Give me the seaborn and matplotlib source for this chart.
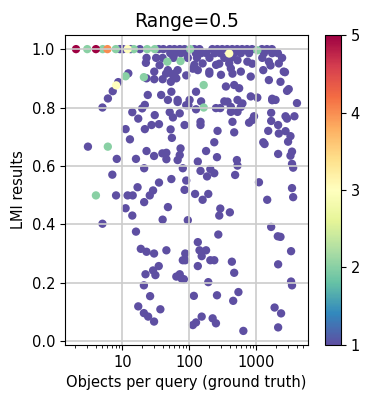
import numpy as np
import pandas as pd
import matplotlib
matplotlib.use('Agg')
import matplotlib.pyplot as plt
import matplotlib.ticker as mticker
import seaborn as sns
from matplotlib.colors import Normalize
from matplotlib.cm import ScalarMappable

# ---------------- data ----------------
# colored points (value > 1)
x_hi = [2.04, 4.04, 6.0, 12.0, 8.1, 394,
        3.0, 5.1, 8.0, 14.9, 23.5, 30.5, 103, 1035, 47, 74, 11.2, 21, 164, 164, 6.08, 4.04]
y_hi = [1.0, 1.0, 1.0, 1.0, 0.876, 0.985,
        1.0, 1.0, 1.0, 1.0, 1.0, 1.0, 1.0, 0.996, 0.957, 0.959, 0.907, 0.904, 0.877, 0.80, 0.666, 0.499]
v_hi = [5, 5, 4, 3, 3, 3,
        2, 2, 2, 2, 2, 2, 2, 2, 2, 2, 2, 2, 2, 2, 2, 2]

# purple points (value 1)
x_lo = [9.2, 10.3, 13.3, 18.3, 35, 41, 51, 60, 72, 85, 119, 142, 221, 262, 310, 368, 437, 518, 614, 728, 863, 1213, 1442, 1710,
        52, 62, 75, 90, 125, 150, 180, 240, 290, 468, 588, 780, 1300, 1726, 2100,
        23, 32, 40, 58, 95, 130, 200, 333, 417, 1227, 2427,
        22.5, 36, 119, 158, 251, 280, 524, 736, 870, 1541, 1630, 2167, 394,
        48, 67, 134, 199, 417, 588, 1270, 2570, 30, 113, 2680,
        57, 297, 45, 60, 90, 199, 441, 826, 64, 40, 30, 23, 53, 1541, 2296, 12.3, 8.7,
        468, 555, 352, 126, 38, 54, 24, 2877, 3048,
        101, 150, 67, 48, 333, 826, 1035, 1726, 372, 524, 1937, 4045,
        7.2, 6.1, 5.06, 21.7, 19.8, 97, 126, 250, 290, 417, 417, 524, 588, 621, 1726, 90, 67,
        14.1, 17.3, 30.5, 51, 72, 57, 1667, 1667, 2729, 2877, 3707, 925, 873, 780, 441, 147, 147,
        27.3, 35.3, 21.7, 11.2, 52.6, 85, 264, 468, 1506, 2118, 2167, 2729, 3236,
        13, 55, 236, 1270, 1330, 2980,
        3.07, 74, 23, 178, 39.6, 45.5, 29.8, 72, 2118, 3412, 3236,
        8.27, 16, 45.5, 67, 259, 513, 134, 524, 3412, 3548,
        21.2, 80, 147, 206, 236, 184, 483, 7.1,
        35.3, 54, 90, 1096, 16.9, 28.8, 85, 3412,
        8.07, 12, 14.3, 25.7, 122, 192, 3548, 158, 1455, 21.2,
        11.2, 48, 290, 14.1, 280, 403, 40, 95, 5.06,
        16, 271, 1667, 2094, 2296, 134,
        18.9, 23, 29.8, 45.5, 87, 142, 178, 3304, 153,
        80, 87, 206, 236, 432, 35, 134, 2118, 28.8, 22.2, 31.2, 468,
        64, 72, 77, 83, 192, 3304, 3412, 21,
        117, 259, 541, 26, 452, 17.3, 37, 1875, 21, 2344, 24.3, 153, 223, 29.8, 250, 113, 126, 641, 2118]
y_lo = [1.0] * 24 + [0.986] * 15 + [0.97] * 11 + \
       [0.953, 0.945, 0.946, 0.951, 0.946, 0.95, 0.962, 0.957, 0.95, 0.957, 0.944, 0.951, 0.951,
        0.928, 0.928, 0.928, 0.923, 0.934, 0.923, 0.928, 0.923, 0.923, 0.933, 0.921,
        0.911, 0.912, 0.916, 0.916, 0.91, 0.916, 0.916, 0.906, 0.90, 0.897, 0.897, 0.90, 0.888, 0.894, 0.888, 0.917, 0.887,
        0.877, 0.866, 0.872, 0.854, 0.843, 0.854, 0.843, 0.857, 0.863,
        0.826, 0.821, 0.826, 0.826, 0.821, 0.838, 0.834, 0.830, 0.820, 0.826, 0.826, 0.815,
        0.856, 0.831, 0.80, 0.809, 0.797, 0.808, 0.794, 0.798, 0.798, 0.802, 0.785, 0.785, 0.802, 0.814, 0.825, 0.808, 0.819,
        0.784, 0.762, 0.774, 0.784, 0.78, 0.766, 0.782, 0.754, 0.77, 0.762, 0.77, 0.77, 0.757, 0.748, 0.751, 0.751, 0.74,
        0.74, 0.743, 0.726, 0.726, 0.725, 0.74, 0.72, 0.715, 0.72, 0.74, 0.711, 0.719, 0.702,
        0.691, 0.696, 0.681, 0.681, 0.675, 0.683,
        0.666, 0.66, 0.651, 0.651, 0.643, 0.645, 0.634, 0.637, 0.641, 0.649, 0.635,
        0.624, 0.624, 0.623, 0.62, 0.63, 0.62, 0.615, 0.601, 0.607, 0.594,
        0.592, 0.592, 0.583, 0.589, 0.575, 0.564, 0.569, 0.57,
        0.543, 0.555, 0.55, 0.544, 0.527, 0.516, 0.518, 0.524,
        0.499, 0.499, 0.499, 0.499, 0.504, 0.504, 0.493, 0.484, 0.484, 0.476,
        0.455, 0.459, 0.454, 0.43, 0.43, 0.441, 0.416, 0.414, 0.402,
        0.375, 0.365, 0.391, 0.359, 0.357, 0.339,
        0.316, 0.306, 0.30, 0.311, 0.30, 0.311, 0.311, 0.308, 0.291,
        0.277, 0.277, 0.277, 0.277, 0.272, 0.257, 0.257, 0.263, 0.242, 0.229, 0.226, 0.234,
        0.221, 0.229, 0.214, 0.212, 0.202, 0.204, 0.191, 0.191,
        0.155, 0.157, 0.168, 0.154, 0.138, 0.119, 0.109, 0.115, 0.096, 0.095, 0.084, 0.084, 0.078, 0.067, 0.061, 0.055, 0.064, 0.035, 0.047]
v_lo = [1] * len(x_lo)

cbar_ticks = [1, 2, 3, 4, 5]

# ---------------- dataframe ----------------
df = pd.DataFrame({'objects': x_lo + x_hi,
                   'lmi': y_lo + y_hi,
                   'value': v_lo + v_hi})
df = df.sort_values('value', kind='stable')  # higher values on top

# ---------------- plot ----------------
fig = plt.figure(figsize=(3.83, 4.2), dpi=100)
ax = fig.add_axes([0.1697, 0.1786, 0.6345, 0.738])
cax = fig.add_axes([0.8486, 0.1786, 0.0418, 0.738])

sns.scatterplot(data=df, x='objects', y='lmi', hue='value', palette='Spectral_r',
                hue_norm=(1, 5), s=36, linewidth=0, legend=False, ax=ax)

ax.set_xscale('log')
ax.xaxis.set_major_formatter(mticker.FuncFormatter(lambda v, p: '%g' % v))
ax.grid(True, color='#cccccc', linewidth=1.2)
ax.set_yticks([0.0, 0.2, 0.4, 0.6, 0.8, 1.0])
ax.tick_params(labelsize=10.5)
ax.set_xlabel('Objects per query (ground truth)', fontsize=10.5)
ax.set_ylabel('LMI results', fontsize=10.5)
ax.set_title('Range=0.5', fontsize=13.5)

# colorbar
sm = ScalarMappable(norm=Normalize(1, 5), cmap='Spectral_r')
cb = fig.colorbar(sm, cax=cax)
cb.set_ticks(cbar_ticks)
cb.ax.tick_params(labelsize=10.5)

fig.savefig('out.png', dpi=100)
